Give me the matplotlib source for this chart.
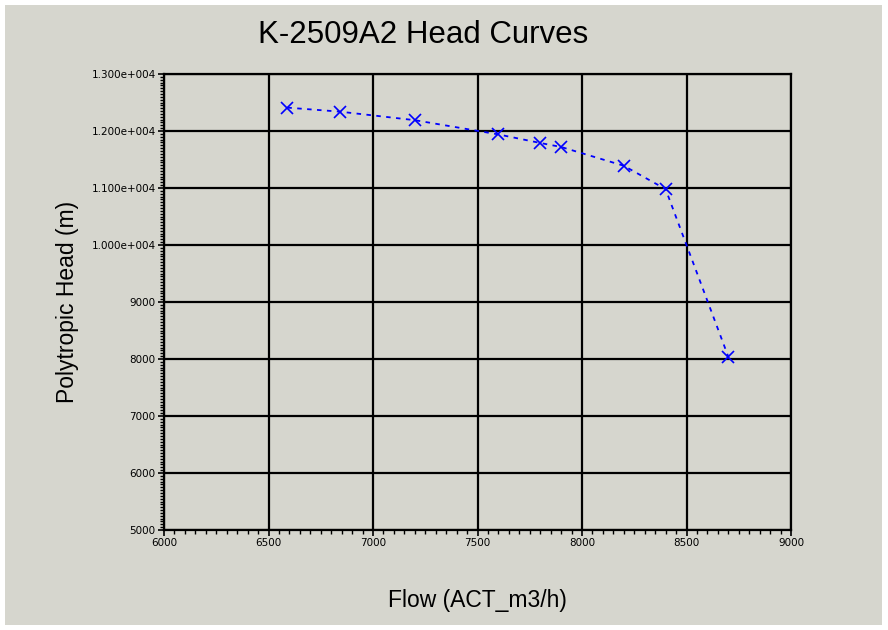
#!/usr/bin/python3

import matplotlib
matplotlib.use('Agg')
import matplotlib.pyplot as plt
from matplotlib.patches import Rectangle
from matplotlib.ticker import MultipleLocator, FixedLocator

# data
flow = [6590, 6840, 7200, 7600, 7800, 7900, 8200, 8400, 8700]
head = [12410, 12340, 12190, 11940, 11790, 11720, 11390, 10980, 8040]

y_ticks = [5000, 6000, 7000, 8000, 9000, 10000, 11000, 12000, 13000]
y_labels = ['5000', '6000', '7000', '8000', '9000',
            '1.000e+004', '1.100e+004', '1.200e+004', '1.300e+004']
x_ticks = [6000, 6500, 7000, 7500, 8000, 8500, 9000]


def main():
	bg = '#d6d6ce'
	fig = plt.figure(figsize=(8.88, 6.30), dpi=100, facecolor='white')
	# grey panel with a thin white frame around it
	fig.patches.append(Rectangle((5 / 888, 5 / 630), 877 / 888, 620 / 630,
	                             transform=fig.transFigure, facecolor=bg,
	                             edgecolor='none', zorder=-10))

	ax = fig.add_axes([164 / 888, 1 - 530 / 630, 627 / 888, 456 / 630])
	ax.set_facecolor(bg)

	ax.plot(flow, head, color='#0000ff', linestyle=(0, (2.5, 3)), linewidth=1.3,
	        marker='x', markersize=8, markeredgewidth=1.2, zorder=5)

	ax.set_xlim(6000, 9000)
	ax.set_ylim(5000, 13000)
	ax.xaxis.set_major_locator(FixedLocator(x_ticks))
	ax.yaxis.set_major_locator(FixedLocator(y_ticks))
	ax.set_yticklabels(y_labels)
	ax.set_xticklabels([str(t) for t in x_ticks])
	ax.xaxis.set_minor_locator(MultipleLocator(50))
	ax.yaxis.set_minor_locator(MultipleLocator(50))

	ax.grid(True, which='major', color='black', linewidth=1.6)
	for s in ax.spines.values():
		s.set_color('black')
		s.set_linewidth(1.6)

	ax.tick_params(which='major', direction='out', length=4, width=1.2,
	               labelsize=7.5, colors='black', pad=2)
	ax.tick_params(which='minor', direction='out', length=3, width=1)

	lab_font = ['Liberation Sans', 'DejaVu Sans']
	ax.set_xlabel('Flow (ACT_m3/h)', fontsize=16.5, labelpad=29, family=lab_font)
	ax.set_ylabel('Polytropic Head (m)', fontsize=16.5, labelpad=9, family=lab_font)
	fig.text(423 / 888, 1 - 35 / 630, 'K-2509A2 Head Curves', fontsize=22.5,
	         ha='center', va='center', family=lab_font)

	plt.savefig('out.png', dpi=100, facecolor='white')


if __name__ == '__main__':
	main()
